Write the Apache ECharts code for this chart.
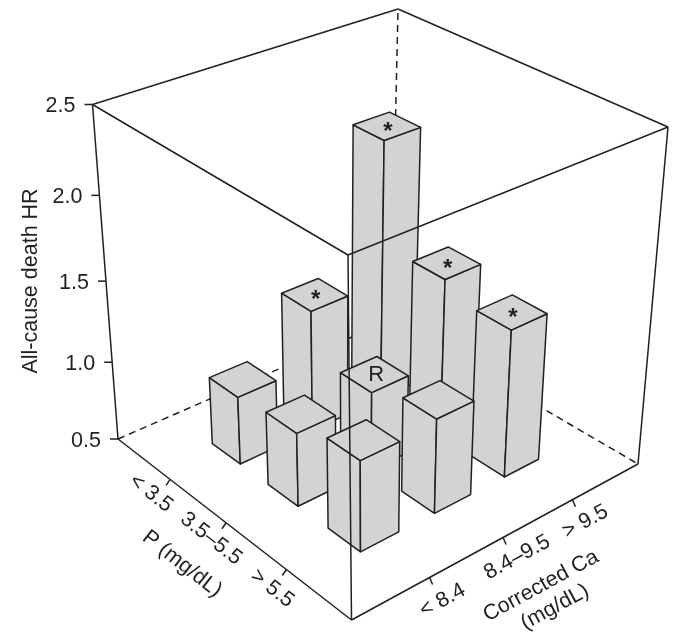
<!DOCTYPE html>
<html>
<head>
<meta charset="utf-8">
<style>
  html, body { margin: 0; padding: 0; background: #fff; }
  #chart { width: 677px; height: 640px; }
</style>
</head>
<body>
<div id="chart"></div>
<script src="https://cdn.jsdelivr.net/npm/echarts@6/dist/echarts.min.js"></script>
<script>
const caLabels = ['< 8.4', '8.4–9.5', '> 9.5']
const pLabels = ['< 3.5', '3.5–5.5', '> 5.5']
const hrTicks = [0.5, 1.0, 1.5, 2.0, 2.5]

// one row per P group, one value per Ca group
const hrPLow = [0.93, 1.27, 2.12]
const hrPMid = [0.96, 1.0, 1.5]
const hrPHigh = [1.06, 1.09, 1.42]
const marksPLow = ['', '*', '*']
const marksPMid = ['', 'R', '*']
const marksPHigh = ['', '', '*']

const hrRows = [hrPLow, hrPMid, hrPHigh]
const markRows = [marksPLow, marksPMid, marksPHigh]

// box corners on screen: ca low/p low, ca high/p low, ca high/p high, ca low/p high
const floorBox = [[118, 439], [391, 320], [638, 464], [351.5, 620]]
const topBox = [[92.5, 104.5], [398, 9], [668, 127], [348, 255]]
const depthK = 1.119
const halfBar = 0.255

const INK = '#231f20'
const FILL = '#d1d3d4'
const FONT = '"Liberation Sans", Arial, sans-serif'
const TEXT_SIZE = 21.5

const CA_MIN = -1, CA_MAX = 3
const P_MIN = -1, P_MAX = 3
const HR_MIN = 0.5, HR_MAX = 2.5

const chart = echarts.init(document.getElementById('chart'), null, { renderer: 'canvas' })

// unit square to quad, so the floor and lid keep their perspective
function quadMap(q) {
  const dx1 = q[1][0] - q[2][0], dx2 = q[3][0] - q[2][0]
  const dy1 = q[1][1] - q[2][1], dy2 = q[3][1] - q[2][1]
  const sx = q[0][0] - q[1][0] + q[2][0] - q[3][0]
  const sy = q[0][1] - q[1][1] + q[2][1] - q[3][1]
  const den = dx1 * dy2 - dx2 * dy1
  const g = (sx * dy2 - dx2 * sy) / den
  const h = (dx1 * sy - sx * dy1) / den
  return function (u, v) {
    const w = g * u + h * v + 1
    return [
      ((q[1][0] - q[0][0] + g * q[1][0]) * u + (q[3][0] - q[0][0] + h * q[3][0]) * v + q[0][0]) / w,
      ((q[1][1] - q[0][1] + g * q[1][1]) * u + (q[3][1] - q[0][1] + h * q[3][1]) * v + q[0][1]) / w
    ]
  }
}
const floorMap = quadMap(floorBox)
const topMap = quadMap(topBox)

// the hidden grids are 100px squares, so their pixels are axis fractions
function project(api, ca, p, hr) {
  const c = api.coord([ca, hr])
  const u = c[0] / 100
  const t = (100 - c[1]) / 100
  const v = chart.convertToPixel({ xAxisIndex: 1 }, p) / 100
  const f = t / (t + depthK * (1 - t))
  const lo = floorMap(u, v)
  const hi = topMap(u, v)
  return [lo[0] + f * (hi[0] - lo[0]), lo[1] + f * (hi[1] - lo[1])]
}

function line(a, b, dash) {
  return {
    type: 'line',
    shape: { x1: a[0], y1: a[1], x2: b[0], y2: b[1] },
    style: { stroke: INK, lineWidth: 1.5, lineDash: dash ? [7, 5] : null, fill: null }
  }
}

function label(text, x, y, deg, size, align) {
  return {
    type: 'text',
    x: x,
    y: y,
    rotation: (deg * Math.PI) / 180,
    style: {
      text: text,
      fill: INK,
      fontFamily: FONT,
      fontSize: size || TEXT_SIZE,
      align: align || 'center',
      verticalAlign: 'middle'
    }
  }
}

function face(points) {
  return {
    type: 'polygon',
    shape: { points: points },
    style: { fill: FILL, stroke: INK, lineWidth: 1.5, lineJoin: 'round' }
  }
}

function renderBack(params, api) {
  const p = (ca, pp, hr) => project(api, ca, pp, hr)
  return {
    type: 'group',
    children: [
      line(p(CA_MIN, P_MIN, HR_MIN), p(CA_MAX, P_MIN, HR_MIN), true),
      line(p(CA_MAX, P_MIN, HR_MIN), p(CA_MAX, P_MAX, HR_MIN), true),
      line(p(CA_MAX, P_MIN, HR_MIN), p(CA_MAX, P_MIN, HR_MAX), true),
      line(p(CA_MIN, P_MIN, HR_MAX), p(CA_MAX, P_MIN, HR_MAX)),
      line(p(CA_MAX, P_MIN, HR_MAX), p(CA_MAX, P_MAX, HR_MAX))
    ]
  }
}

function renderBar(params, api) {
  const ca = api.value(0)
  const pp = api.value(1)
  const hr = api.value(2)
  const mark = markRows[pp][ca]
  const d = halfBar
  const corner = (dc, dp, h) => project(api, ca + dc, pp + dp, h)
  const tl = corner(-d, -d, hr), tf = corner(-d, d, hr), tr = corner(d, d, hr), tb = corner(d, -d, hr)
  const bl = corner(-d, -d, HR_MIN), bf = corner(-d, d, HR_MIN), br = corner(d, d, HR_MIN)
  const children = [
    face([tl, tf, bf, bl]),
    face([tf, tr, br, bf]),
    face([tl, tf, tr, tb])
  ]
  if (mark) {
    const m = project(api, ca, pp, hr)
    if (mark === '*') {
      const t = label(mark, m[0] + 1, m[1] + 6, 0, 24)
      t.style.fontWeight = 'bold'
      children.push(t)
    } else {
      children.push(label(mark, m[0] + 2, m[1] + 1, 0, 22))
    }
  }
  return { type: 'group', children: children }
}

function renderFront(params, api) {
  const p = (ca, pp, hr) => project(api, ca, pp, hr)
  const kids = [
    line(p(CA_MIN, P_MIN, HR_MIN), p(CA_MIN, P_MAX, HR_MIN)),
    line(p(CA_MIN, P_MAX, HR_MIN), p(CA_MAX, P_MAX, HR_MIN)),
    line(p(CA_MIN, P_MIN, HR_MAX), p(CA_MIN, P_MAX, HR_MAX)),
    line(p(CA_MIN, P_MAX, HR_MAX), p(CA_MAX, P_MAX, HR_MAX)),
    line(p(CA_MIN, P_MIN, HR_MIN), p(CA_MIN, P_MIN, HR_MAX)),
    line(p(CA_MIN, P_MAX, HR_MIN), p(CA_MIN, P_MAX, HR_MAX)),
    line(p(CA_MAX, P_MAX, HR_MIN), p(CA_MAX, P_MAX, HR_MAX))
  ]

  hrTicks.forEach((hr) => {
    const a = p(CA_MIN, P_MIN, hr)
    kids.push(line([a[0] - 8, a[1]], a))
    kids.push(label(hr.toFixed(1), a[0] - 17, a[1] + 2, 0, TEXT_SIZE, 'right'))
  })
  kids.push(label('All-cause death HR', 31, 281, 90))

  const pOffset = [[-19, 14], [-15, 16], [-14, 19]]
  pLabels.forEach((text, i) => {
    const a = p(CA_MIN, i, HR_MIN)
    kids.push(line(a, [a[0] - 4, a[1] + 6]))
    kids.push(label(text, a[0] + pOffset[i][0], a[1] + pOffset[i][1], -38))
  })
  kids.push(label('P (mg/dL)', 182, 564, -38))

  const caOffset = [[13, 23], [14, 20], [13, 22]]
  caLabels.forEach((text, i) => {
    const a = p(i, P_MAX, HR_MIN)
    kids.push(line(a, [a[0] + 3, a[1] + 7]))
    kids.push(label(text, a[0] + caOffset[i][0], a[1] + caOffset[i][1], 28.5))
  })
  kids.push(label('Corrected Ca', 541, 586, 28.5))
  kids.push(label('(mg/dL)', 555, 607, 28.5))

  return { type: 'group', children: kids }
}

// back bars first so the nearer ones cover them
const barData = []
hrRows.forEach((row, pIdx) => {
  row.forEach((hr, caIdx) => {
    barData.push([caIdx, pIdx, hr])
  })
})
barData.sort((a, b) => (a[1] - a[0]) - (b[1] - b[0]))

const option = {
  animation: false,
  backgroundColor: '#fff',
  tooltip: { show: false },
  grid: [
    { left: 0, top: 0, width: 100, height: 100, show: false },
    { left: 0, top: 0, width: 100, height: 100, show: false }
  ],
  xAxis: [
    { type: 'value', gridIndex: 0, min: CA_MIN, max: CA_MAX, show: false },
    { type: 'value', gridIndex: 1, min: P_MIN, max: P_MAX, show: false }
  ],
  yAxis: [
    { type: 'value', gridIndex: 0, min: HR_MIN, max: HR_MAX, show: false },
    { type: 'value', gridIndex: 1, min: 0, max: 1, show: false }
  ],
  series: [
    {
      type: 'custom', z: 1, clip: false, silent: true,
      xAxisIndex: 0, yAxisIndex: 0,
      data: [[0, HR_MIN]],
      renderItem: renderBack
    },
    {
      type: 'custom', z: 2, clip: false, silent: true,
      xAxisIndex: 0, yAxisIndex: 0,
      encode: { x: 0, y: 2 },
      data: barData,
      renderItem: renderBar
    },
    {
      type: 'custom', z: 3, clip: false, silent: true,
      xAxisIndex: 0, yAxisIndex: 0,
      data: [[0, HR_MIN]],
      renderItem: renderFront
    }
  ]
}

chart.setOption(option)
</script>
</body>
</html>
